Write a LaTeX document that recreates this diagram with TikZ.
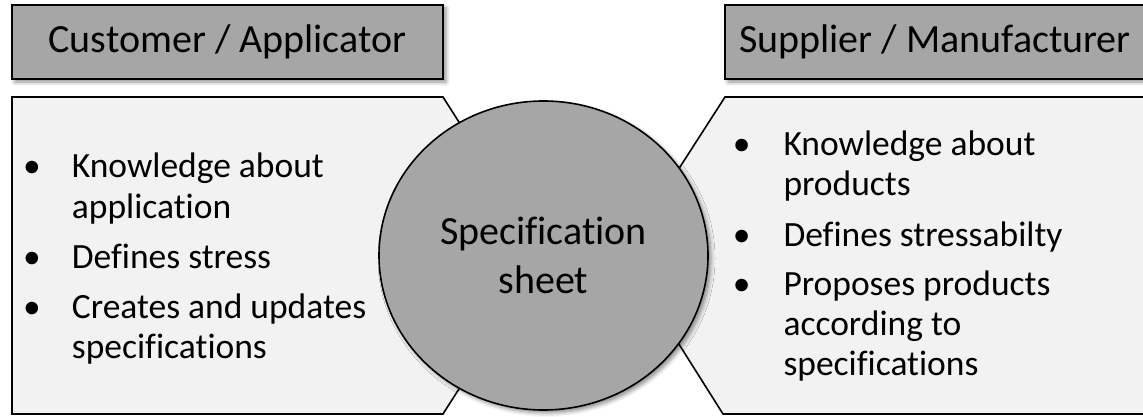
\documentclass[tikz,border=0pt]{standalone}
\usepackage{fontspec}
\setmainfont{Carlito}[Ligatures=NoCommon]
\usetikzlibrary{shapes.geometric,shadows.blur}
\definecolor{headgray}{RGB}{166,166,166}
\definecolor{panelgray}{RGB}{242,242,242}

\tikzset{
  myshadow/.style={blur shadow={shadow xshift=3pt, shadow yshift=-3pt, shadow blur radius=4pt, shadow opacity=45}},
  header/.style={draw, line width=1.6pt, fill=headgray, myshadow, inner sep=0, minimum height=74, font=\fontsize{40}{48}\selectfont},
  panel/.style={draw, line width=1.6pt, fill=panelgray},
  bulletdot/.style={anchor=base, inner sep=0, font=\fontsize{35.5}{40}\selectfont},
  itemtext/.style={anchor=base west, inner sep=0, align=left, font=\fontsize{35.5}{40}\selectfont},
}

\begin{document}
\begin{tikzpicture}[x=1pt,y=-1pt]

\useasboundingbox (0,0) rectangle (1143,417);
\clip (0,0) rectangle (1143,417);
% panels
\draw [panel] (12,97) -- (443,97) -- (544,255.5) -- (443,414) -- (12,414) -- cycle; % customer
\draw [panel] (1150,97) -- (725,97) -- (623,255.5) -- (723,414) -- (1150,414) -- cycle; % supplier
% headers
\node [header, minimum width=431] (cust) at (227.5,42) {Customer / Applicator};
\node [header, minimum width=420] (supp) at (935,42) {Supplier / Manufacturer};
% center
\node [ellipse, draw, line width=1.6pt, fill=headgray, myshadow, inner sep=0,
  minimum width=329, minimum height=309, align=center,
  font=\fontsize{40}{49}\selectfont] (spec) at (543.5,255.5) {Specification\\sheet};
% customer items (base = last line)
\node [bulletdot] (cb1) at (32,178) {\textbullet};
\node [itemtext] (ct1) at (71.7,218) {Knowledge about\\application};
\node [bulletdot] (cb2) at (32,268) {\textbullet};
\node [itemtext] (ct2) at (71.7,268) {Defines stress};
\node [bulletdot] (cb3) at (32,318) {\textbullet};
\node [itemtext] (ct3) at (71.7,358) {Creates and updates\\specifications};
% supplier items (base = last line)
\node [bulletdot] (sb1) at (741.7,155) {\textbullet};
\node [itemtext] (st1) at (783.3,195) {Knowledge about\\products};
\node [bulletdot] (sb2) at (741.7,246) {\textbullet};
\node [itemtext] (st2) at (783.3,246) {Defines stressabilty};
\node [bulletdot] (sb3) at (741.7,295) {\textbullet};
\node [itemtext] (st3) at (783.3,375) {Proposes products\\according to\\specifications};

\end{tikzpicture}
\end{document}
